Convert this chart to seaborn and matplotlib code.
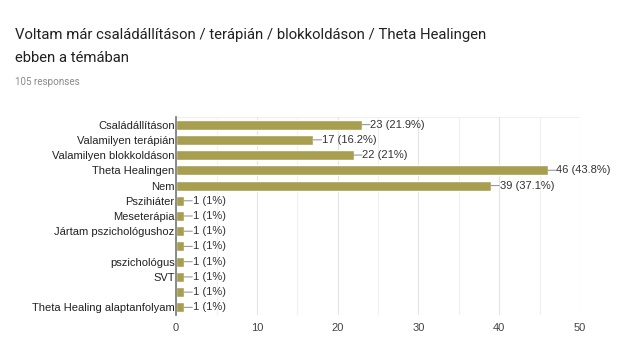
import matplotlib
matplotlib.use("Agg")
import matplotlib.pyplot as plt
import seaborn as sns
import pandas as pd

categories = ["Családállításon", "Valamilyen terápián", "Valamilyen blokkoldáson",
              "Theta Healingen", "Nem", "Pszihiáter", "Meseterápia",
              "Jártam pszichológushoz", " ", "pszichológus", "SVT", "  ",
              "Theta Healing alaptanfolyam"]
counts = [23, 17, 22, 46, 39, 1, 1, 1, 1, 1, 1, 1, 1]
percents = ["21.9%", "16.2%", "21%", "43.8%", "37.1%", "1%", "1%", "1%", "1%",
            "1%", "1%", "1%", "1%"]
x_ticks = [0, 10, 20, 30, 40, 50]

df = pd.DataFrame({"cat": categories, "count": counts})

sns.set_style("white")
plt.rcParams["font.family"] = ["Liberation Sans", "DejaVu Sans"]

fig = plt.figure(figsize=(6.29, 3.51), dpi=100)
ax = fig.add_axes([0.28, 0.1026, 0.642, 0.5641])

bar_color = "#a89e50"
sns.barplot(data=df, x="count", y="cat", order=categories, color=bar_color,
            saturation=1, width=0.66, ax=ax, orient="h")

ax.set_xlim(0, 50)
ax.set_ylim(len(categories) - 0.5, -0.5)
ax.set_xticks(x_ticks)
ax.set_xticklabels([str(t) for t in x_ticks], fontsize=8, color="#444444")
ax.set_xticks([5, 15, 25, 35, 45], minor=True)
ax.grid(axis="x", which="major", color="#e4e4e4", linewidth=0.8)
ax.grid(axis="x", which="minor", color="#f0f0f0", linewidth=0.8)
ax.set_axisbelow(True)
ax.tick_params(axis="y", labelsize=8, colors="#222222", length=0, pad=1)
ax.tick_params(axis="x", length=0, pad=6)
ax.set_xlabel("")
ax.set_ylabel("")

for s in ["top", "right", "bottom"]:
    ax.spines[s].set_visible(False)
ax.spines["left"].set_color("#777777")
ax.spines["left"].set_linewidth(1.2)
ax.axhline(-0.5, color="#f0f0f0", linewidth=0.8, zorder=0)
ax.axhline(len(categories) - 0.5, color="#f0f0f0", linewidth=0.8, zorder=0)

for i, (c, p) in enumerate(zip(counts, percents)):
    ax.annotate("", xy=(c, i), xytext=(c + 1.0, i),
                arrowprops=dict(arrowstyle="-", color="#999999", lw=0.8,
                                shrinkA=0, shrinkB=0))
    ax.text(c + 1.05, i, f"{c} ({p})", va="center", ha="left",
            fontsize=8, color="#333333")

title_fam = ["Roboto", "DejaVu Sans"]
fig.text(0.024, 0.889, "Voltam már családállításon / terápián / blokkoldáson / Theta Healingen",
         fontsize=10.7, color="#212121", family=title_fam, va="baseline")
fig.text(0.024, 0.823, "ebben a témában",
         fontsize=10.7, color="#212121", family=title_fam, va="baseline")
fig.text(0.024, 0.757, "105 responses", fontsize=7.1, color="#8a8a8a",
         family=title_fam, va="baseline")

fig.savefig("out.png", dpi=100, facecolor="white")
